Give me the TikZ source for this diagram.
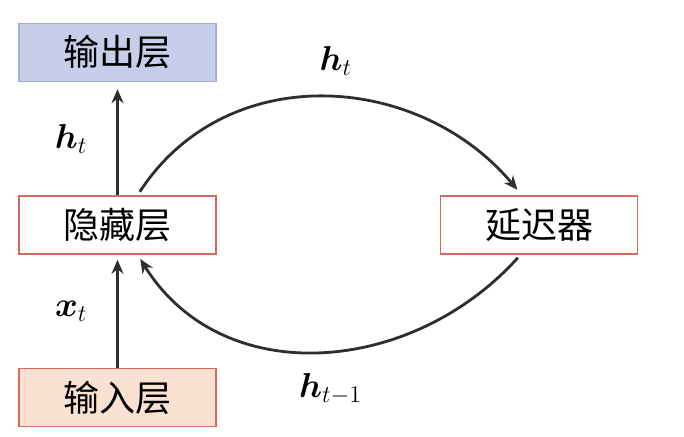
\documentclass[tikz,border=0pt]{standalone}
\usepackage{amsmath,amssymb}
\usepackage{fontspec}
\newfontfamily\cjk{Noto Sans CJK SC}
\usetikzlibrary{
		positioning,
		arrows.meta
	}
\tikzset{
		>={Stealth[length=7pt, width=6pt]}
	}
\definecolor{boxred}{HTML}{D86A5C}
\definecolor{outblue}{HTML}{9FAEDB}
\definecolor{outfill}{HTML}{C6CEEA}
\definecolor{infill}{HTML}{FBE1D2}
\definecolor{linkgray}{HTML}{2E2E2E}

\begin{document}
\begin{tikzpicture}[x=0.5pt, y=0.5pt,
				node distance=56.5pt and 111.5pt,
				layer/.style={draw=boxred, line width=0.8pt, minimum width=98.5pt, minimum height=29pt, font=\cjk\fontsize{18}{20}\selectfont},
				link/.style={->, line width=1.4pt, draw=linkgray},
				sym/.style={font=\fontsize{18}{20}\selectfont}]
	\useasboundingbox (0,0) rectangle (684,437);
	% the four layers
	\node[layer] (hidden) at (117.5,212) {隐藏层};
	\node[layer, above=of hidden, draw=outblue, fill=outfill] (output) {输出层};
	\node[layer, below=of hidden, fill=infill] (input) {输入层};
	\node[layer, right=of hidden] (delay) {延迟器};
	% straight links
	\draw[link, shorten >=3.5pt] (hidden) -- node[sym, left=11pt] {$\boldsymbol{h}_t$} (output);
	\draw[link, shorten >=2.5pt] (input) -- node[sym, left=11pt] {$\boldsymbol{x}_t$} (hidden);
	% loop through the delay
	\draw[link, shorten <=2pt, shorten >=3.5pt] (hidden.56) to[out=57, in=130, looseness=1.08]
		node[sym, above=7pt, pos=0.5, xshift=6pt] {$\boldsymbol{h}_t$} (delay.120);
	\draw[link, shorten <=2pt, shorten >=2.5pt] (delay.238) to[out=228, in=302, looseness=1.08]
		node[sym, below=7pt, pos=0.5, xshift=5pt] {$\boldsymbol{h}_{t-1}$} (hidden.304);
\end{tikzpicture}
\end{document}
